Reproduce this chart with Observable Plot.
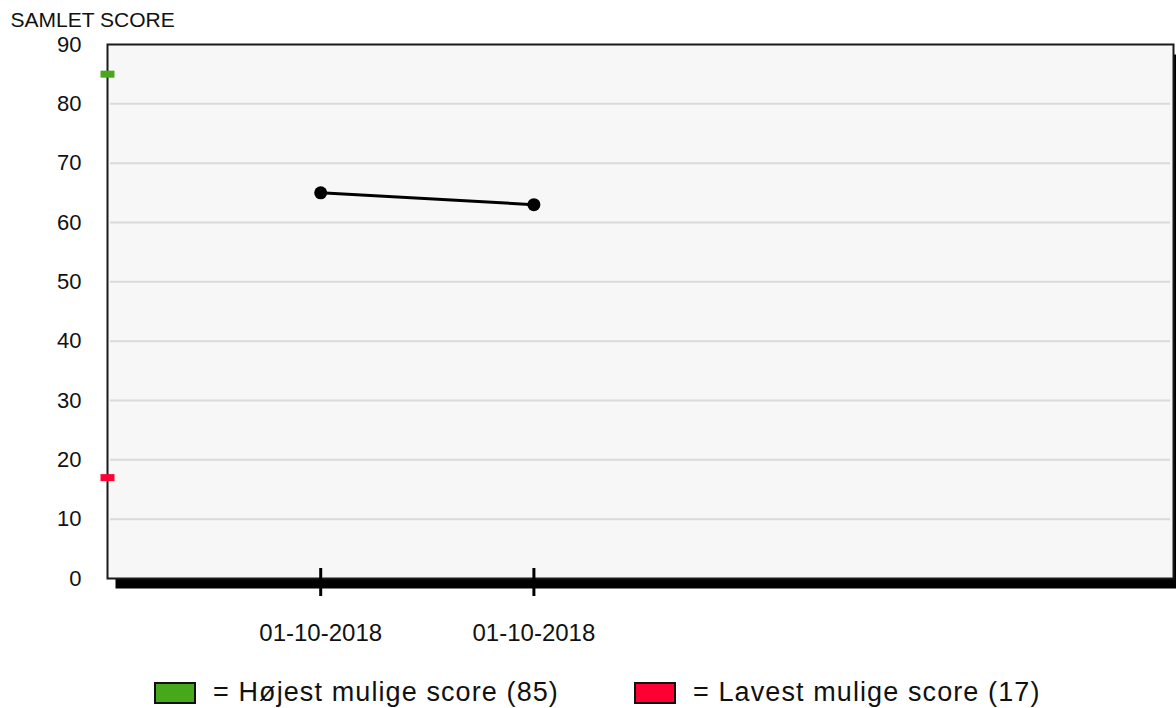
<!DOCTYPE html>
<html>
<head>
<meta charset="utf-8">
<script src="https://cdn.jsdelivr.net/npm/d3@7"></script>
<script src="https://cdn.jsdelivr.net/npm/@observablehq/plot@0.6"></script>
<style>
  html, body { margin: 0; padding: 0; background: #fff; overflow: hidden; }
  body { font-family: "Liberation Sans", Arial, sans-serif; width: 1176px; height: 708px; }
  #legend { position: relative; height: 58px; width: 1176px; }
  .item { position: absolute; top: 27px; display: flex; align-items: center; gap: 17px; font-size: 27px; letter-spacing: 1.1px; color: #111; }
  .swatch { width: 38px; height: 18px; border: 2px solid #111; }
</style>
</head>
<body>
<div id="chart"></div>
<div id="legend"></div>
<script>
// ---- data ----
const dates = ["01-10-2018", "01-10-2018"];
const scores = [65, 63];
const slots = [1, 2];          // position of each measurement among 5 slots
const slotCount = 5;
const yTicks = [0, 10, 20, 30, 40, 50, 60, 70, 80, 90];
const gridValues = [10, 20, 30, 40, 50, 60, 70, 80];
const highest = 85;
const lowest = 17;
const title = "SAMLET SCORE";
const legendLabels = ["= Højest mulige score (85)", "= Lavest mulige score (17)"];

const points = slots.map((s, i) => ({slot: s, date: dates[i], score: scores[i]}));

const rectSymbol = { draw(ctx) { ctx.rect(-7, -3.5, 14, 7); } };

const chart = Plot.plot({
  width: 1176,
  height: 650,
  marginLeft: 107,
  marginRight: 3,
  marginTop: 44,
  marginBottom: 72,
  style: { fontFamily: "'Liberation Sans', Arial, sans-serif", color: "#111", background: "white", overflow: "visible" },
  x: { domain: [0, slotCount], axis: null },
  y: { domain: [0, 90], axis: null },
  marks: [
    Plot.frame({ fill: "black", dx: 8, dy: 10 }),
    Plot.frame({ fill: "#f7f7f7", stroke: "#1a1a1a", strokeWidth: 2 }),
    Plot.ruleY(gridValues, { stroke: "#dadada", strokeWidth: 2, insetLeft: 3, insetRight: 3 }),
    Plot.axisY({ ticks: yTicks, label: null, tickSize: 0, tickPadding: 26, fontSize: 22, tickFormat: d => String(d) }),
    Plot.axisX({ ticks: slots, label: null, tickFormat: (d) => dates[slots.indexOf(d)], tickSize: 28, dy: -10, tickPadding: 27, fontSize: 24, strokeWidth: 3, stroke: "black" }),
    Plot.text([title], { frameAnchor: "top-left", text: d => d, dx: -97, dy: -24, lineAnchor: "middle", fontSize: 21, textAnchor: "start", fill: "#111" }),
    Plot.line(points, { x: "slot", y: "score", stroke: "black", strokeWidth: 3 }),
    Plot.dot(points, { x: "slot", y: "score", r: 6.5, fill: "black" }),
    Plot.dot([highest], { x: () => 0, y: d => d, symbol: rectSymbol, fill: "#48a81c" }),
    Plot.dot([lowest], { x: () => 0, y: d => d, symbol: rectSymbol, fill: "#ff0033" })
  ]
});
document.getElementById("chart").appendChild(chart);

const legend = document.getElementById("legend");
const legendColors = ["#48a81c", "#ff0033"];
const legendLefts = [154, 634];
legendLabels.forEach((lab, i) => {
  const item = document.createElement("div");
  item.className = "item";
  item.style.left = legendLefts[i] + "px";
  const sw = document.createElement("div");
  sw.className = "swatch";
  sw.style.background = legendColors[i];
  const tx = document.createElement("span");
  tx.textContent = lab;
  item.appendChild(sw);
  item.appendChild(tx);
  legend.appendChild(item);
});
</script>
</body>
</html>
